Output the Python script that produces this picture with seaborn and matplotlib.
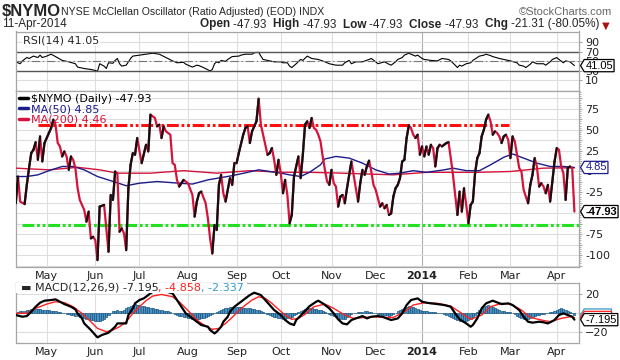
import numpy as np
import matplotlib
matplotlib.use("Agg")
import matplotlib.pyplot as plt
from matplotlib.collections import LineCollection
from matplotlib.lines import Line2D
from matplotlib.path import Path
from matplotlib.ticker import MultipleLocator, FuncFormatter
import seaborn as sns

# trading-day index: 0 = 11-Apr-2013 ... 253 = 11-Apr-2014
month_start = [14, 36, 56, 78, 100, 120, 143, 163, 184, 205, 224, 245]
month_labels = ["May", "Jun", "Jul", "Aug", "Sep", "Oct", "Nov", "Dec", "2014", "Feb", "Mar", "Apr"]

nymo_day = [0, 1, 2, 4, 5, 6, 7, 8, 9, 10, 11, 12, 13, 15, 16, 17, 18, 19, 20, 21, 22, 23, 24, 25, 26, 27, 28, 29,
            30, 31, 32, 33, 34, 35, 36, 37, 38, 40, 42, 43, 44, 45, 46, 47, 48, 49, 50, 51, 52, 53, 54, 55, 57, 59,
            60, 61, 63, 64, 65, 66, 67, 68, 70, 71, 72, 73, 74, 75, 76, 78, 80, 81, 82, 83, 84, 86, 87, 88, 89,
            90, 91, 92, 93, 94, 95, 97, 98, 99, 100, 101, 103, 104, 105, 106, 107, 109, 110, 111, 112, 114, 115,
            116, 117, 118, 119, 120, 121, 122, 123, 124, 125, 126, 128, 129, 130, 131, 132, 133, 134, 135, 136,
            137, 138, 139, 140, 141, 142, 143, 144, 145, 146, 147, 148, 149, 150, 151, 152, 153, 154, 155, 156,
            157, 158, 159, 160, 161, 162, 163, 164, 165, 166, 167, 168, 169, 170, 171, 172, 173, 174, 175, 176,
            177, 178, 179, 180, 181, 182, 183, 184, 185, 186, 187, 188, 189, 190, 191, 192, 193, 194, 195, 196,
            197, 198, 199, 200, 201, 202, 203, 204, 205, 206, 207, 208, 209, 210, 211, 212, 213, 214, 215, 216,
            217, 218, 219, 220, 221, 222, 223, 224, 225, 226, 227, 228, 229, 230, 231, 232, 233, 234, 235, 236,
            237, 238, 239, 240, 241, 242, 243, 244, 245, 246, 247, 248, 249, 250, 251, 252, 253]
nymo_val = [-38, -6, -36, -39, -16, 4, 22, 26, 35, 14, 42, 12, 34, 46, 52, 62, 56, 34, 30, 18, 24, 18, 2, 18, 14, 4,
            -20, -34, -40, -46, -60, -48, -80, -78, -82, -106, -42, -40, -96, -28, -34, 0, -2, -72, -68, -74, -94,
            -20, 8, 22, 20, 40, 10, 32, 24, 68, 64, 54, 56, 40, 54, 48, 44, 10, 8, -10, -18, -14, -10, -14, -28,
            -54, -36, -26, -24, -38, -56, -80, -98, -64, -70, -16, -4, -26, -36, -8, -16, 10, 10, 22, 44, 52, 54,
            34, 48, 60, 87, 56, 44, 20, 22, 28, 14, -4, 14, -2, -26, -10, -28, -62, -52, -6, 18, -8, 20, 56, 60,
            52, 64, 52, 50, 44, 36, 18, 2, -12, -16, 2, -14, -18, -42, -30, -28, -38, -20, -4, 12, -4, -20, -36,
            -14, 2, -4, 6, 13, 0, -16, -22, -32, -42, -38, -44, -40, -52, -50, -30, -20, -16, -8, 12, 14, 40, 55,
            52, 44, 40, 44, 20, 30, 18, 30, 20, 32, 28, 6, 28, 32, 30, 32, 34, 35, 16, -4, -28, -52, -24, -48, -20,
            -40, -62, -40, -36, -2, 16, 22, 42, 50, 62, 68, 60, 44, 48, 46, 42, 34, 42, 44, 38, 16, 42, 36, 20, 4,
            0, -22, -30, -38, -16, -4, 16, 6, -18, -14, -18, -26, -16, -36, -12, 12, 28, 26, 6, -2, -34, 4, 6, 4,
            -47.93]

ma50_day = [0, 5, 10, 15, 21, 26, 31, 37, 43, 50, 56, 64, 74, 80, 87, 98, 105, 110, 120, 124, 129, 133, 138, 140,
            145, 151, 157, 163, 169, 174, 180, 186, 194, 198, 204, 210, 215, 221, 225, 230, 236, 242, 248, 253]
ma50_val = [-6, -6, -4, 1, 6, 6, 2, -6, -11, -17, -14, -12, -14, -15, -10, -5, -1, 2, -2, -4, -6, -1, 8, 15,
            18, 16, 10, 2, -3, -2, 1, -1, 2, 4, 1, 1, 8, 17, 21, 16, 10, 6, 6, 4.85]

ma200_day = [0, 15, 28, 38, 46, 61, 76, 91, 106, 121, 133, 148, 171, 186, 209, 224, 239, 253]
ma200_val = [4, 2, 5, 2, -2, -2, 1, -2, 1, -1, -1, -2, -4, -1, -1, 0, 4, 4.46]

# hand-drawn trend lines: (value, first day, last day)
red_line = (55.5, 10, 223.5)
green_line = (-64, 2.7, 255.3)

rsi_day = [0, 2, 3, 5, 6, 8, 10, 11, 12, 14, 16, 18, 21, 24, 27, 28, 31, 34, 36, 37, 38, 40, 41, 42, 44, 45, 46,
           47, 48, 50, 51, 52, 53, 56, 59, 62, 65, 68, 71, 73, 76, 77, 79, 80, 82, 83, 85, 88, 89, 90, 91, 92, 93,
           95, 96, 98, 101, 102, 104, 107, 108, 110, 111, 112, 114, 117, 120, 121, 123, 124, 125, 127, 129, 130,
           132, 134, 137, 140, 142, 145, 148, 149, 151, 152, 154, 157, 160, 161, 163, 164, 167, 169, 170, 172, 173,
           175, 176, 178, 179, 181, 182, 184, 185, 188, 191, 193, 196, 197, 199, 200, 201, 202, 204, 206, 207, 209,
           210, 212, 213, 215, 216, 219, 221, 224, 227, 228, 230, 231, 233, 234, 236, 239, 240, 242, 243, 245, 246,
           248, 249, 251, 253]
rsi_val = [49, 45, 51, 58, 56, 61, 58, 63, 58, 61, 65, 60, 52, 49, 45, 38, 35, 33, 31, 29, 45, 40, 35, 47, 46, 52,
           56, 45, 40, 42, 49, 56, 61, 63, 65, 67, 65, 58, 51, 47, 48, 44, 40, 38, 42, 41, 37, 30, 33, 45, 49, 47,
           52, 50, 54, 60, 61, 63, 65, 65, 68, 69, 61, 54, 52, 49, 49, 47, 47, 40, 37, 45, 54, 52, 61, 56, 54, 49,
           45, 42, 42, 47, 52, 45, 49, 49, 54, 56, 49, 45, 49, 44, 42, 49, 54, 58, 63, 67, 65, 61, 63, 56, 54, 52,
           51, 56, 54, 51, 42, 37, 42, 40, 45, 47, 52, 58, 61, 63, 65, 62, 60, 56, 54, 51, 47, 42, 40, 37, 44, 49,
           45, 45, 42, 49, 54, 58, 54, 47, 51, 49, 41.05]

macd_day = [0, 3, 5, 7, 9, 11, 13, 16, 18, 20, 22, 25, 27, 28, 30, 31, 34, 36, 37, 39, 42, 45, 46, 50, 51, 53, 54,
            56, 58, 60, 62, 66, 71, 73, 75, 77, 80, 82, 84, 87, 88, 90, 91, 93, 94, 96, 97, 99, 102, 104, 106, 108,
            111, 113, 115, 117, 120, 122, 124, 126, 127, 129, 131, 133, 136, 137, 139, 142, 144, 146, 148, 150,
            152, 154, 157, 159, 161, 164, 166, 168, 170, 173, 175, 177, 179, 182, 184, 186, 188, 191, 194, 197,
            199, 201, 204, 206, 207, 209, 211, 213, 216, 220, 223, 225, 228, 230, 232, 234, 237, 239, 241, 244,
            246, 248, 250, 252, 253]
macd_val = [-2.3, -4.1, -3.4, 1.2, 6.5, 10.8, 12.9, 13.6, 14.3, 11.8, 9.3, 6.5, 3.7, -0.6, -5.9, -11.2, -18.2,
            -23.5, -26, -23.5, -21.1, -14.7, -11.2, -11.2, -2.3, 4.8, 10.1, 13.6, 15.4, 18.9, 22.4, 24, 20.7, 13.6,
            6.5, -0.6, -5.9, -9.4, -12.9, -14.7, -18.2, -21.8, -20, -14.7, -9.4, -4.1, 1.2, 6.5, 11.8, 15.4, 18.9,
            21.4, 18.9, 13.6, 8.3, 3, -2.3, -7.6, -11.2, -12.9, -7.6, -3, 2, 7, 11.8, 12.9, 10.1, 4.8, -0.6, -6.9,
            -11.2, -12.2, -7.6, -5.9, -3.4, -5.9, -4.1, -3.4, -4.1, -5.9, -7.6, -5.9, -0.6, 8.3, 13.6, 15.4, 11.8,
            10.8, 10.1, 9.3, 8.3, 6.5, -0.6, -6.9, -11.2, -14.7, -12.9, -5.9, 4.8, 10.1, 12.9, 9.3, 10.1, 8.3, 3,
            -4.1, -9.4, -10.4, -9.4, -10, -11.2, -7.6, -2.3, -0.6, -2.3, -4.1, -7.195]

signal_day = [0, 5, 9, 14, 18, 22, 26, 30, 34, 37, 41, 44, 47, 50, 53, 56, 59, 62, 66, 71, 74, 77, 80, 83, 86, 89,
              92, 95, 98, 101, 104, 107, 110, 113, 116, 119, 122, 125, 128, 131, 135, 140, 144, 149, 153, 158, 162,
              167, 171, 176, 180, 185, 191, 197, 202, 206, 211, 215, 220, 224, 229, 233, 238, 242, 247, 251, 253]
signal_val = [-0.5, -0.5, 4.8, 9.3, 11.8, 10.8, 6.5, -0.6, -9.4, -16.5, -20, -18.2, -14.7, -9.4, -0.6, 6.5, 12.9,
              17.8, 19.5, 17.1, 11.8, 4.8, -2.3, -9.4, -14, -17.5, -16.5, -11.2, -4.8, 2.3, 8.3, 13.6, 17.1, 15.4,
              10.1, 3.7, -2.3, -6.9, -5.9, -1.5, 6.5, 9.3, 4.8, -2.3, -5.9, -4.8, -4.1, -4.8, -4.8, 1.2, 8.3, 10.8,
              10.1, 7.2, -0.6, -6.9, -2.3, 6.5, 10.1, 9.3, 3, -4.8, -7.6, -9.4, -5.9, -4.1, -4.858]

# MACD histogram, one bar per trading day (Apr .. Apr)
hist_val = [1, 1, 1.5, 2, 2.5, 3, 3.5, 4, 4.5, 4.5, 4, 4, 3.5, 3.5,
            3, 3, 2.5, 2, 1.5, 1, 0.5, 0, -0.5, -1, -1.5, -2, -2.5, -3, -3.5, -4, -5, -5.5, -6, -7, -7.5, -8,
            -8.5, -9, -9, -8, -6.5, -4.5, -2, 0, 1.5, 2.5, 3, 2.5, 2, 3, 5, 6.5, 7.5, 8.5, 9, 8.5,
            8, 7.5, 7, 6.5, 6, 5.5, 5, 4.5, 4, 3.5, 3, 2.5, 2, 1.5, 1, 0, -1, -2, -3, -3.5, -4, -4.5,
            -5, -5.5, -6, -6.5, -6.5, -6, -5.5, -5, -4, -3, -2, -1, 0, 1, 2, 3, 4, 5, 5.5, 6, 6, 6,
            6, 6, 6, 5.5, 5.5, 5, 5, 4.5, 4, 3.5, 3, 2, 1, 0, -1, -2, -3, -4, -4.5, -5,
            -5.5, -6, -6, -5.5, -5, -4, -2.5, -1, 1, 2.5, 3.5, 4.5, 5, 5, 5, 4.5, 4, 3.5, 3, 2, 1, 0, -1,
            -2, -3, -4.5, -5.5, -6.5, -7, -6, -4.5, -3, -1.5, -0.5, 0, 0.5, 1, 1, 1.5, 1.5, 1, 0.5, 0,
            -0.5, -1, -1.5, -2, -2.5, -2.5, -3, -2.5, -1.5, 0, 1.5, 3, 4.5, 5.5, 6.5, 7, 6.5, 6, 5, 4, 3,
            2.5, 2, 1.5, 1, 1, 0.5, 0.5, 0, 0, -0.5, -1, -2, -3, -4, -5.5, -6.5, -7.5, -8.5, -9, -9.5, -9,
            -8, -6.5, -4.5, -2, 0.5, 3, 5, 6.5, 7.5, 8, 7.5, 6.5, 5, 4, 3, 2, 1.5, 1, 1,
            0.5, 0, -1.5, -3, -4.5, -5.5, -6.5, -7, -6.5, -5.5, -4.5, -3.5, -2.5, -2, -1.5, -1, -0.5, 0, 0.5, 1, 2,
            3, 4, 5, 4.5, 3.5, 2, 1, 0, -2.337]
hist_day = list(range(len(hist_val)))

sns.set_style("white")
plt.rcParams["font.family"] = ["DejaVu Sans"]
plt.rcParams["lines.scale_dashes"] = False

CRIMSON = "#d4143c"
NAVY = "#1c1c8c"
GRID = "#dedede"
SPINE = "#a6a6a6"
NARROW = ["Liberation Sans Narrow", "Liberation Sans", "DejaVu Sans"]
ARIAL = ["Liberation Sans", "DejaVu Sans"]

fig = plt.figure(figsize=(6.2, 3.6), dpi=100)
L, W = 16 / 620, (579.5 - 16) / 620
ax_rsi = fig.add_axes([L, 1 - 91.3 / 360, W, (91.3 - 31.5) / 360])
ax_main = fig.add_axes([L, 1 - 266.5 / 360, W, (266.5 - 91.3) / 360], sharex=ax_rsi)
ax_macd = fig.add_axes([L, 1 - 343.3 / 360, W, (343.3 - 282.7) / 360], sharex=ax_rsi)

for ax in (ax_rsi, ax_main, ax_macd):
    for s in ax.spines.values():
        s.set_color(SPINE)
        s.set_linewidth(0.9)
    ax.yaxis.tick_right()
    ax.tick_params(axis="y", which="both", direction="out", length=2, color=SPINE,
                   labelsize=8, pad=2, labelcolor="#222222")
    ax.tick_params(axis="x", length=0, labelsize=8, pad=3, labelcolor="#222222")
    ax.set_xticks(month_start)
    ax.grid(True, axis="both", which="major", color=GRID, lw=0.8)
    ax.set_axisbelow(True)

ax_rsi.set_xlim(0.1, 255.3)


def tag_shape(x0, y0, width, height, mutation_size):
    # price tag: box with a short point on the left
    p = 0.1 * mutation_size
    x0, y0, x1, y1 = x0 - p, y0 - p, x0 + width + p, y0 + height + p
    h = (y1 - y0) / 2
    return Path([(x0, y0), (x1, y0), (x1, y1), (x0, y1), (x0 - 0.6 * h, y0 + h), (x0, y0)], closed=True)


def tag(ax, val, text, ec, tc="black", weight="normal", z=20):
    ax.annotate(text, xy=(1, val), xycoords=("axes fraction", "data"), xytext=(4.2, 0),
                textcoords="offset points", ha="left", va="center", fontsize=8, color=tc,
                weight=weight, family=ARIAL, annotation_clip=False, zorder=z,
                bbox=dict(boxstyle=tag_shape, fc="white", ec=ec, lw=0.9))


# ---- RSI panel
sns.lineplot(x=rsi_day, y=rsi_val, color="black", lw=0.8, estimator=None, ax=ax_rsi)
ax_rsi.axhline(70, color="#555555", lw=1)
ax_rsi.axhline(30, color="#555555", lw=1)
ax_rsi.axhline(50, color="#777777", lw=0.8, dashes=(6, 2, 1, 2))
ax_rsi.set_ylim(-12.7, 112.5)
ax_rsi.set_yticks([10, 30, 50, 70, 90])
ax_rsi.tick_params(axis="x", labelbottom=False)
ax_rsi.text(0.012, 0.93, "RSI(14) 41.05", transform=ax_rsi.transAxes, fontsize=8, va="top",
            bbox=dict(fc="white", ec="none", pad=0.5), zorder=15)
tag(ax_rsi, rsi_val[-1], "41.05", "black")

# ---- main panel
ax_main.hlines(red_line[0], red_line[1], red_line[2], color="#ff1010", lw=2.2,
               linestyles=[(0, (8.5, 2, 2, 2, 2, 2))], zorder=3)
ax_main.hlines(green_line[0], green_line[1], green_line[2], color="#22e022", lw=2.2,
               linestyles=[(0, (8.5, 2, 2, 2, 2, 2))], zorder=3)
sns.lineplot(x=ma200_day, y=ma200_val, color=CRIMSON, lw=1, estimator=None, ax=ax_main, zorder=4)
sns.lineplot(x=ma50_day, y=ma50_val, color=NAVY, lw=1, estimator=None, ax=ax_main, zorder=4)
sns.lineplot(x=nymo_day, y=nymo_val, color=CRIMSON, lw=1.6, estimator=None, ax=ax_main, zorder=5)
pts = np.column_stack([nymo_day, nymo_val])
segs = np.stack([pts[:-1], pts[1:]], axis=1)
rising = np.diff(nymo_val) > 0
ax_main.add_collection(LineCollection(segs[rising], colors="#111111", linewidths=1.6,
                                      capstyle="round", zorder=6))
ax_main.set_ylim(-113.6, 95.9)
ax_main.yaxis.set_major_locator(MultipleLocator(12.5))
ax_main.yaxis.set_minor_locator(MultipleLocator(2.5))
ax_main.yaxis.set_major_formatter(FuncFormatter(lambda v, p: f"{v:.0f}" if abs(v % 25) < 1e-6 else ""))
ax_main.tick_params(axis="y", which="minor", length=1.5)
ax_main.set_xticklabels(month_labels)
handles = [Line2D([], [], color="black", lw=2.5), Line2D([], [], color=NAVY, lw=2.5),
           Line2D([], [], color=CRIMSON, lw=2.5)]
leg = ax_main.legend(handles, ["$NYMO (Daily) -47.93", "MA(50) 4.85", "MA(200) 4.46"],
                     loc="upper left", frameon=False, fontsize=8, handlelength=0.8,
                     handletextpad=0.3, labelspacing=0.02, borderaxespad=0.15, borderpad=0.1)
for t, c in zip(leg.get_texts(), ["black", NAVY, CRIMSON]):
    t.set_color(c)
leg.set_zorder(2)
tag(ax_main, ma50_val[-1], "4.85", NAVY, tc=NAVY)
tag(ax_main, nymo_val[-1], "-47.93", "black", weight="bold")

# ---- MACD panel
sns.barplot(x=hist_day, y=hist_val, native_scale=True, color="#4793c6", edgecolor="#1b5580",
            linewidth=0.5, width=0.95, saturation=1, errorbar=None, ax=ax_macd, zorder=2)
sns.lineplot(x=signal_day, y=signal_val, color="#ff2020", lw=1, estimator=None, ax=ax_macd, zorder=4)
sns.lineplot(x=macd_day, y=macd_val, color="black", lw=1.6, estimator=None, ax=ax_macd, zorder=5)
ax_macd.set_ylim(-32.3, 32)
ax_macd.set_yticks([-20, 0, 20])
ax_macd.set_xlim(0.1, 255.3)
ax_macd.set_xticks(month_start)
ax_macd.set_xticklabels(month_labels)
ax_macd.add_patch(plt.Rectangle((0, 0.83), 0.41, 0.17, transform=ax_macd.transAxes, fc="white",
                                ec="none", zorder=8))
t = ax_macd.text(0.008, 0.915, "\u25ac MACD(12,26,9) -7.195", transform=ax_macd.transAxes, fontsize=8,
                 va="center", zorder=9)
t = ax_macd.annotate(", -4.858", xy=(1, 0), xycoords=t, va="bottom", fontsize=8, color="#ff2020", zorder=9)
ax_macd.annotate(", -2.337", xy=(1, 0), xycoords=t, va="bottom", fontsize=8, color="#3399cc", zorder=9)
tag(ax_macd, hist_val[-1], "        ", "#3399cc", z=18)
tag(ax_macd, signal_val[-1], "        ", "#ff2020", z=19)
tag(ax_macd, macd_val[-1], "-7.195", "black")

for ax in (ax_rsi, ax_main, ax_macd):
    ax.set_xlabel("")
    ax.set_ylabel("")
    ax.get_xgridlines()[8].set_color("#b0b0b0")
for ax in (ax_main, ax_macd):
    for lab in ax.get_xticklabels():
        if lab.get_text() == "2014":
            lab.set_fontweight("bold")

# ---- header
fig.text(0.003, 1 - 12 / 360, "$NYMO", fontsize=12, weight="bold", va="center", family=NARROW)
fig.text(0.099, 1 - 12 / 360, "NYSE McClellan Oscillator (Ratio Adjusted) (EOD) INDX", fontsize=7.6,
         va="center", family=NARROW)
fig.text(0.987, 1 - 12 / 360, "\u00a9StockCharts.com", fontsize=8, va="center", ha="right",
         color="#666666", family=ARIAL)
fig.text(0.003, 1 - 24.5 / 360, "11-Apr-2014", fontsize=8.5, va="center", family=NARROW)
parts = [("Open ", "bold"), ("-47.93  ", "normal"), ("High ", "bold"), ("-47.93  ", "normal"),
         ("Low ", "bold"), ("-47.93  ", "normal"), ("Close ", "bold"), ("-47.93  ", "normal"),
         ("Chg ", "bold"), ("-21.31 (-80.05%)", "normal")]
prev = fig.text(200 / 620, 1 - 24.5 / 360, parts[0][0], fontsize=8.5, weight=parts[0][1], va="center",
                family=NARROW)
for txt, wt in parts[1:]:
    prev = ax_rsi.annotate(txt, xy=(1, 0), xycoords=prev, va="bottom", fontsize=8.5, weight=wt,
                           family=NARROW, annotation_clip=False)
ax_rsi.annotate(" \u25bc", xy=(1, 0), xycoords=prev, va="bottom", fontsize=7, color="#aa1111",
                annotation_clip=False)

fig.savefig("out.png", dpi=100)
